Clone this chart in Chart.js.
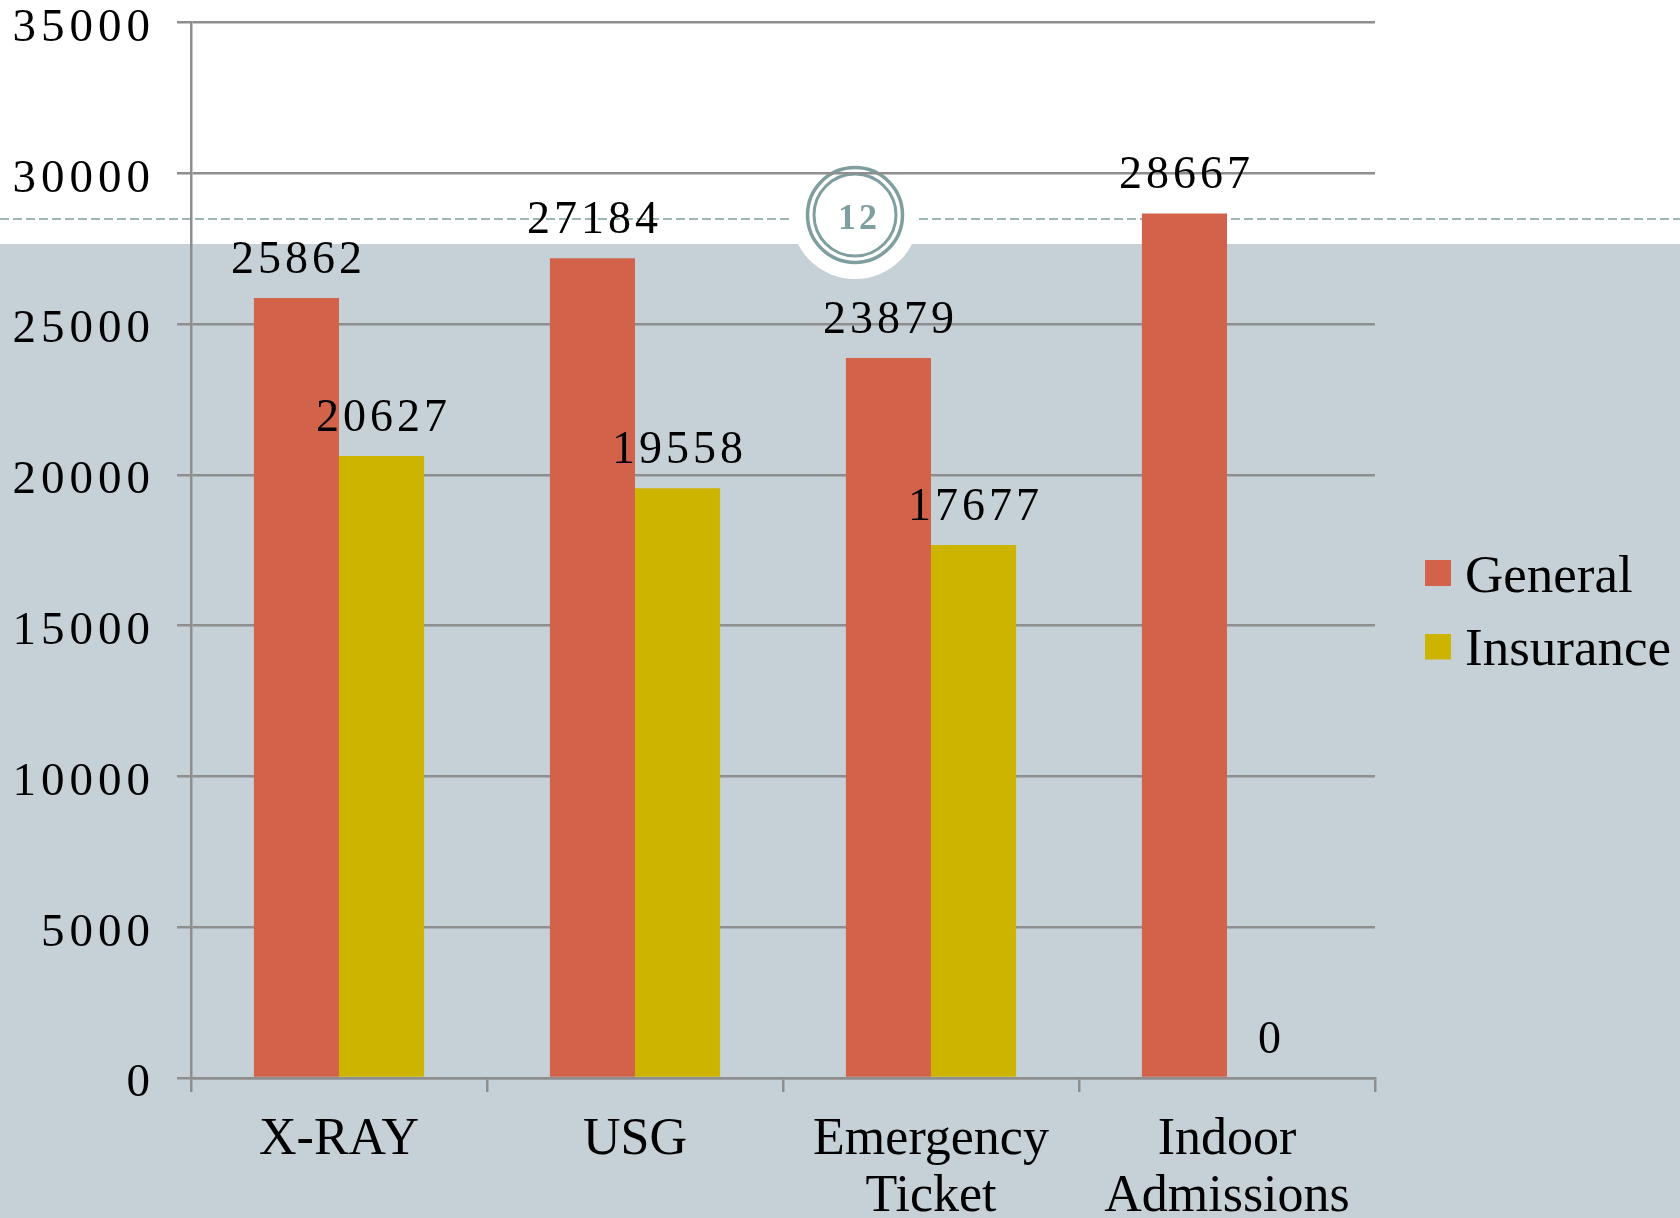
<!DOCTYPE html>
<html><head><meta charset="utf-8">
<style>html,body{margin:0;padding:0;background:#fff}canvas{display:block}</style>
<script src="https://cdn.jsdelivr.net/npm/chart.js@4/dist/chart.umd.min.js"></script>
</head><body><canvas id="c" width="1680" height="1218"></canvas>
<script>
const categories = ['X-RAY', 'USG', ['Emergency', 'Ticket'], ['Indoor', 'Admissions']];
const seriesNames = ['General', 'Insurance'];
const generalValues = [25862, 27184, 23879, 28667];
const insuranceValues = [20627, 19558, 17677, 0];
const seriesColors = ['#D2634A', '#CDB400'];
const yMax = 35000, yStep = 5000;
const pageNumber = '12';
const TEXT = 'Liberation Serif';
const ACC = '#7F9E9F', GRID = '#8E8E8E', BAND = '#C5D1D7';

function swatch(color) {
  const s = document.createElement('canvas');
  s.width = 26; s.height = 36;
  const x = s.getContext('2d'); x.fillStyle = color; x.fillRect(0, 0, 26, 26);
  return s;
}
const swatches = seriesColors.map(swatch);

const decor = {
  id: 'decor',
  afterLayout(chart) {
    const l = chart.legend;
    l.left = 1416; l.right = 1680; l.top = 531; l.bottom = 1218;
  },
  beforeDraw(chart) {
    const c = chart.ctx;
    c.save();
    c.fillStyle = '#fff'; c.fillRect(0, 0, 1680, 1218);
    c.fillStyle = BAND; c.fillRect(0, 244, 1680, 974);
    c.fillStyle = '#fff'; c.beginPath(); c.arc(855, 215, 64, 0, Math.PI * 2); c.fill();
    c.strokeStyle = ACC; c.lineWidth = 1.5; c.setLineDash([9, 4]);
    c.beginPath(); c.moveTo(0, 219); c.lineTo(789, 219); c.moveTo(919, 219); c.lineTo(1680, 219); c.stroke();
    c.setLineDash([]);
    c.lineWidth = 3.5; c.beginPath(); c.arc(855, 215, 47.5, 0, Math.PI * 2); c.stroke();
    c.lineWidth = 3; c.beginPath(); c.arc(855, 215, 41, 0, Math.PI * 2); c.stroke();
    c.fillStyle = ACC; c.font = 'bold 36px "' + TEXT + '"'; c.textAlign = 'center'; c.textBaseline = 'alphabetic';
    c.letterSpacing = '3px';
    c.fillText(pageNumber, 859, 229);
    c.letterSpacing = '0px';
    c.restore();
    const y = chart.scales.y;
    if (!y._wrapped) {
      const orig = y.drawLabels;
      y.drawLabels = function (a) {
        const k = this.ctx; k.save(); k.letterSpacing = '5px'; k.translate(5, 6);
        orig.call(this, a); k.restore();
      };
      y._wrapped = true;
    }
  },
  afterDatasetsDraw(chart) {
    const c = chart.ctx;
    c.save();
    c.fillStyle = '#000'; c.font = '46px "' + TEXT + '"'; c.textAlign = 'center'; c.textBaseline = 'alphabetic';
    c.letterSpacing = '4px';
    chart.data.datasets.forEach((d, i) => {
      chart.getDatasetMeta(i).data.forEach((b, j) => {
        c.fillText(String(d.data[j]), b.x + 2, b.y - 25);
      });
    });
    c.restore();
  }
};

new Chart(document.getElementById('c'), {
  type: 'bar',
  data: {
    labels: categories,
    datasets: [
      { label: seriesNames[0], data: generalValues, backgroundColor: seriesColors[0], borderWidth: 0 },
      { label: seriesNames[1], data: insuranceValues, backgroundColor: seriesColors[1], borderWidth: 0 }
    ]
  },
  options: {
    responsive: false,
    animation: false,
    categoryPercentage: 0.575,
    barPercentage: 1,
    layout: { padding: { top: 22.5, right: 305, left: 0, bottom: 0 } },
    plugins: {
      tooltip: { enabled: false },
      title: { display: false },
      legend: {
        position: 'chartArea',
        align: 'start',
        labels: {
          usePointStyle: true,
          pointStyleWidth: 2,
          padding: 20.5,
          color: '#000',
          font: { family: TEXT, size: 53 },
          generateLabels(chart) {
            return Chart.defaults.plugins.legend.labels.generateLabels(chart)
              .map((it, i) => Object.assign(it, { pointStyle: swatches[i] }));
          }
        }
      }
    },
    scales: {
      x: {
        afterFit(s) { s.height = 140; s.paddingLeft = 0; s.paddingRight = 0; },
        grid: { color: GRID, lineWidth: 2.5, drawOnChartArea: false, drawTicks: true, tickLength: 14, tickColor: GRID },
        border: { color: GRID, width: 2.5 },
        ticks: { color: '#000', maxRotation: 0, autoSkip: false, padding: 20, font: { family: TEXT, size: 52, lineHeight: 1.096 } }
      },
      y: {
        min: 0, max: yMax,
        afterFit(s) { s.width = 191; s.paddingTop = 0; s.paddingBottom = 0; },
        grid: { color: GRID, lineWidth: 2.5, tickLength: 14, tickColor: GRID },
        border: { color: GRID, width: 2.5 },
        ticks: { stepSize: yStep, color: '#000', padding: 27, font: { family: TEXT, size: 47 }, callback: v => String(v) }
      }
    }
  },
  plugins: [decor]
});
</script></body></html>
